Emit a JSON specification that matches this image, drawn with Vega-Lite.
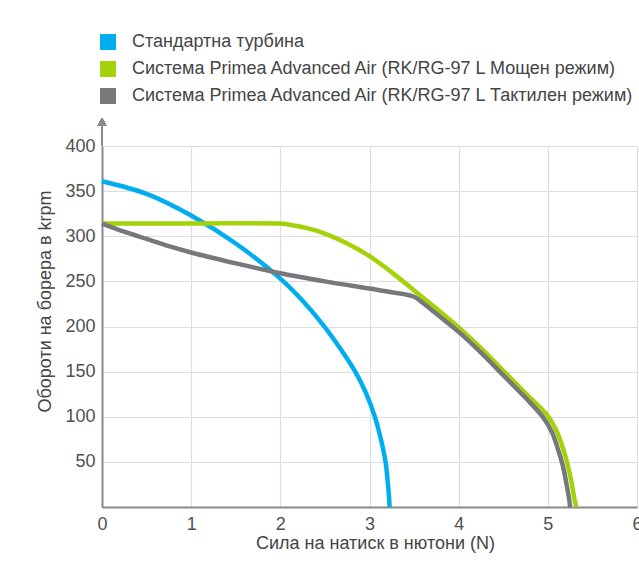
{
  "$schema": "https://vega.github.io/schema/vega-lite/v6.json",
  "width": 535,
  "height": 361,
  "autosize": {"type": "none"},
  "padding": {"left": 102, "top": 146, "right": 2, "bottom": 62},
  "background": "white",
  "config": {
    "font": "Liberation Sans",
    "view": {"stroke": null},
    "axis": {
      "grid": true,
      "gridColor": "#dedede",
      "gridWidth": 1.2,
      "domainColor": "#8a8a8a",
      "domainWidth": 2,
      "ticks": false,
      "labelFont": "Liberation Sans",
      "labelFontSize": 18,
      "labelColor": "#505050",
      "labelFlush": false,
      "labelOverlap": false,
      "titleFont": "Liberation Sans",
      "titleFontSize": 18,
      "titleFontWeight": "normal",
      "titleColor": "#454545"
    },
    "legend": {
      "labelFont": "Liberation Sans",
      "labelFontSize": 18,
      "labelColor": "#454545",
      "labelLimit": 0
    }
  },
  "data": {
    "values": [
      {"s": "Стандартна турбина", "x": 0, "y": 361},
      {"s": "Стандартна турбина", "x": 0.5, "y": 347},
      {"s": "Стандартна турбина", "x": 1, "y": 323},
      {"s": "Стандартна турбина", "x": 1.5, "y": 292},
      {"s": "Стандартна турбина", "x": 2, "y": 253},
      {"s": "Стандартна турбина", "x": 2.25, "y": 228.5},
      {"s": "Стандартна турбина", "x": 2.47, "y": 203},
      {"s": "Стандартна турбина", "x": 2.67, "y": 176},
      {"s": "Стандартна турбина", "x": 2.84, "y": 150},
      {"s": "Стандартна турбина", "x": 2.96, "y": 126.5},
      {"s": "Стандартна турбина", "x": 3.06, "y": 100},
      {"s": "Стандартна турбина", "x": 3.12, "y": 78.5},
      {"s": "Стандартна турбина", "x": 3.18, "y": 50},
      {"s": "Стандартна турбина", "x": 3.205, "y": 27},
      {"s": "Стандартна турбина", "x": 3.22, "y": 10},
      {"s": "Стандартна турбина", "x": 3.225, "y": 0},
      {"s": "Система Primea Advanced Air (RK/RG-97 L Мощен режим)", "x": 0, "y": 314},
      {"s": "Система Primea Advanced Air (RK/RG-97 L Мощен режим)", "x": 1, "y": 314},
      {"s": "Система Primea Advanced Air (RK/RG-97 L Мощен режим)", "x": 2, "y": 314},
      {"s": "Система Primea Advanced Air (RK/RG-97 L Мощен режим)", "x": 2.15, "y": 312},
      {"s": "Система Primea Advanced Air (RK/RG-97 L Мощен режим)", "x": 2.3, "y": 309},
      {"s": "Система Primea Advanced Air (RK/RG-97 L Мощен режим)", "x": 2.5, "y": 303},
      {"s": "Система Primea Advanced Air (RK/RG-97 L Мощен режим)", "x": 2.75, "y": 292},
      {"s": "Система Primea Advanced Air (RK/RG-97 L Мощен режим)", "x": 3, "y": 278},
      {"s": "Система Primea Advanced Air (RK/RG-97 L Мощен режим)", "x": 3.25, "y": 260},
      {"s": "Система Primea Advanced Air (RK/RG-97 L Мощен режим)", "x": 3.5, "y": 240},
      {"s": "Система Primea Advanced Air (RK/RG-97 L Мощен режим)", "x": 3.75, "y": 220},
      {"s": "Система Primea Advanced Air (RK/RG-97 L Мощен режим)", "x": 4, "y": 199},
      {"s": "Система Primea Advanced Air (RK/RG-97 L Мощен режим)", "x": 4.25, "y": 176},
      {"s": "Система Primea Advanced Air (RK/RG-97 L Мощен режим)", "x": 4.5, "y": 151},
      {"s": "Система Primea Advanced Air (RK/RG-97 L Мощен режим)", "x": 4.75, "y": 126},
      {"s": "Система Primea Advanced Air (RK/RG-97 L Мощен режим)", "x": 5.0, "y": 101},
      {"s": "Система Primea Advanced Air (RK/RG-97 L Мощен режим)", "x": 5.1, "y": 84},
      {"s": "Система Primea Advanced Air (RK/RG-97 L Мощен режим)", "x": 5.17, "y": 65},
      {"s": "Система Primea Advanced Air (RK/RG-97 L Мощен режим)", "x": 5.22, "y": 48},
      {"s": "Система Primea Advanced Air (RK/RG-97 L Мощен режим)", "x": 5.27, "y": 25},
      {"s": "Система Primea Advanced Air (RK/RG-97 L Мощен режим)", "x": 5.3, "y": 8},
      {"s": "Система Primea Advanced Air (RK/RG-97 L Мощен режим)", "x": 5.32, "y": 0},
      {"s": "Система Primea Advanced Air (RK/RG-97 L Тактилен режим)", "x": 0, "y": 314},
      {"s": "Система Primea Advanced Air (RK/RG-97 L Тактилен режим)", "x": 0.25, "y": 305},
      {"s": "Система Primea Advanced Air (RK/RG-97 L Тактилен режим)", "x": 0.5, "y": 297},
      {"s": "Система Primea Advanced Air (RK/RG-97 L Тактилен режим)", "x": 0.75, "y": 289},
      {"s": "Система Primea Advanced Air (RK/RG-97 L Тактилен режим)", "x": 1, "y": 282},
      {"s": "Система Primea Advanced Air (RK/RG-97 L Тактилен режим)", "x": 1.5, "y": 270},
      {"s": "Система Primea Advanced Air (RK/RG-97 L Тактилен режим)", "x": 2, "y": 259},
      {"s": "Система Primea Advanced Air (RK/RG-97 L Тактилен режим)", "x": 2.5, "y": 250},
      {"s": "Система Primea Advanced Air (RK/RG-97 L Тактилен режим)", "x": 3, "y": 242},
      {"s": "Система Primea Advanced Air (RK/RG-97 L Тактилен режим)", "x": 3.25, "y": 238},
      {"s": "Система Primea Advanced Air (RK/RG-97 L Тактилен режим)", "x": 3.5, "y": 233},
      {"s": "Система Primea Advanced Air (RK/RG-97 L Тактилен режим)", "x": 3.6, "y": 226},
      {"s": "Система Primea Advanced Air (RK/RG-97 L Тактилен режим)", "x": 3.75, "y": 214},
      {"s": "Система Primea Advanced Air (RK/RG-97 L Тактилен режим)", "x": 4, "y": 194},
      {"s": "Система Primea Advanced Air (RK/RG-97 L Тактилен режим)", "x": 4.25, "y": 171},
      {"s": "Система Primea Advanced Air (RK/RG-97 L Тактилен режим)", "x": 4.5, "y": 146},
      {"s": "Система Primea Advanced Air (RK/RG-97 L Тактилен режим)", "x": 4.75, "y": 121},
      {"s": "Система Primea Advanced Air (RK/RG-97 L Тактилен режим)", "x": 4.95, "y": 99},
      {"s": "Система Primea Advanced Air (RK/RG-97 L Тактилен режим)", "x": 5.05, "y": 82},
      {"s": "Система Primea Advanced Air (RK/RG-97 L Тактилен режим)", "x": 5.12, "y": 62},
      {"s": "Система Primea Advanced Air (RK/RG-97 L Тактилен режим)", "x": 5.17, "y": 45},
      {"s": "Система Primea Advanced Air (RK/RG-97 L Тактилен режим)", "x": 5.21, "y": 25},
      {"s": "Система Primea Advanced Air (RK/RG-97 L Тактилен режим)", "x": 5.24, "y": 8},
      {"s": "Система Primea Advanced Air (RK/RG-97 L Тактилен режим)", "x": 5.25, "y": 0}
    ]
  },
  "layer": [
    {
      "mark": {"type": "line", "strokeWidth": 4.5, "interpolate": "catmull-rom", "clip": false, "strokeJoin": "round"},
      "encoding": {
        "x": {
          "field": "x", "type": "quantitative",
          "scale": {"domain": [0, 6], "nice": false, "zero": false},
          "axis": {
            "values": [0, 1, 2, 3, 4, 5, 6],
            "format": "d",
            "title": "Сила на натиск в нютони (N)",
            "labelPadding": 8,
            "titleX": 273,
            "titleY": 36,
            "titleBaseline": "middle",
            "titleAlign": "center"
          }
        },
        "y": {
          "field": "y", "type": "quantitative",
          "scale": {"domain": [0, 400], "nice": false},
          "axis": {
            "values": [50, 100, 150, 200, 250, 300, 350, 400],
            "title": "Обороти на борера в krpm",
            "labelPadding": 7,
            "titleX": -57,
            "titleY": 155,
            "titleAngle": -90,
            "titleBaseline": "middle",
            "titleAlign": "center"
          }
        },
        "color": {
          "field": "s", "type": "nominal",
          "scale": {
            "domain": ["Стандартна турбина", "Система Primea Advanced Air (RK/RG-97 L Мощен режим)", "Система Primea Advanced Air (RK/RG-97 L Тактилен режим)"],
            "range": ["#00aeef", "#a3d10a", "#77787b"]
          },
          "legend": {
            "orient": "none",
            "legendX": -3,
            "legendY": -113,
            "title": null,
            "padding": 0,
            "symbolType": "square",
            "symbolSize": 256,
            "rowPadding": 9,
            "labelOffset": 15,
            "encode": {
              "symbols": {
                "update": {
                  "fill": {"scale": "color", "field": "value"},
                  "strokeWidth": {"value": 0},
                  "opacity": {"value": 1}
                }
              }
            }
          }
        }
      }
    },
    {
      "mark": {"type": "rule", "color": "#8a8a8a", "strokeWidth": 2, "clip": false},
      "encoding": {
        "x": {"datum": 0, "type": "quantitative"},
        "y": {"datum": 400, "type": "quantitative"},
        "y2": {"datum": 428}
      }
    },
    {
      "mark": {"type": "point", "shape": "triangle-up", "filled": true, "color": "#8a8a8a", "size": 70, "opacity": 1, "clip": false},
      "encoding": {
        "x": {"datum": 0, "type": "quantitative"},
        "y": {"datum": 427, "type": "quantitative"}
      }
    }
  ]
}
